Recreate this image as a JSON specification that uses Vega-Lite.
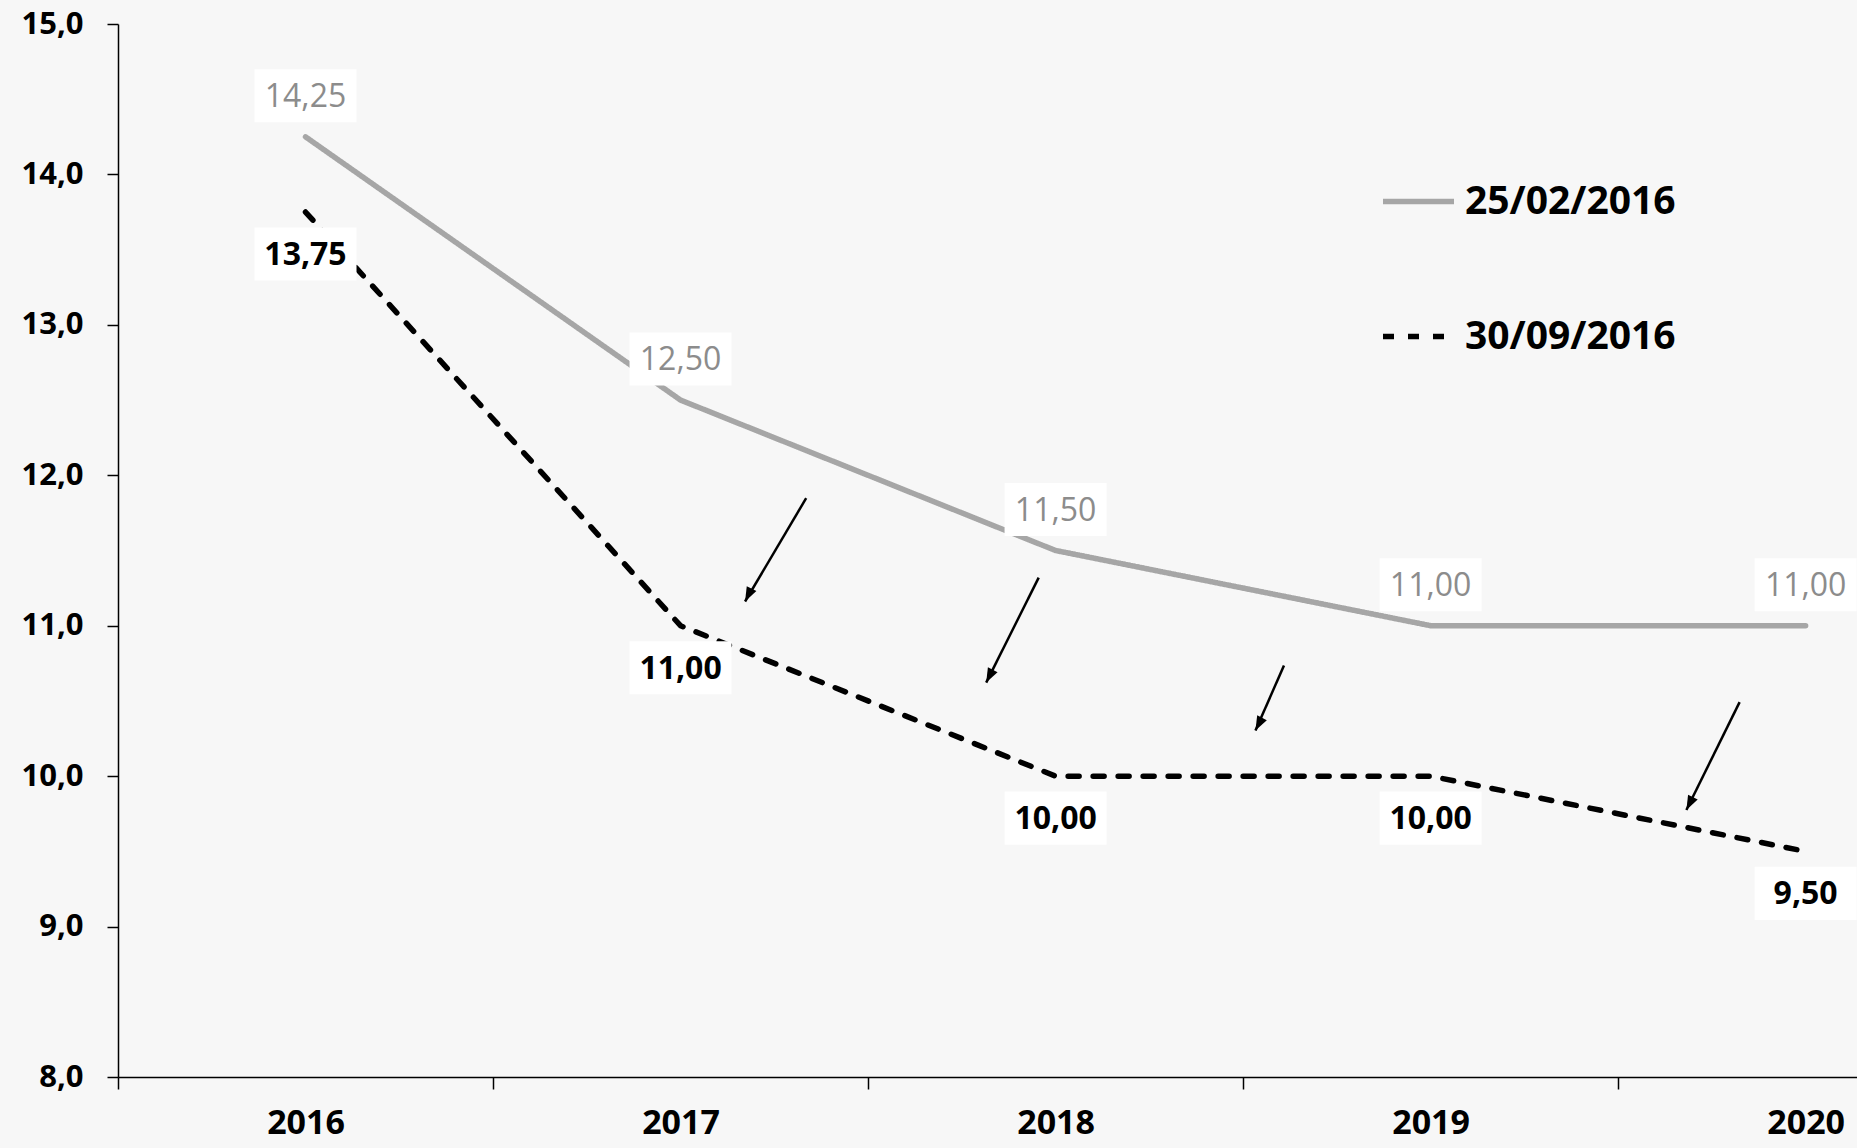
{
  "$schema": "https://vega.github.io/schema/vega-lite/v6.json",
  "width": 1739,
  "height": 1053,
  "autosize": {"type": "none"},
  "padding": {"left": 118, "top": 24, "right": 0, "bottom": 71},
  "background": "#f7f7f7",
  "config": {
    "locale": {"number": {"decimal": ",", "thousands": ".", "grouping": [3], "currency": ["", " €"]}},
    "view": {"stroke": null},
    "font": "Open Sans",
    "axis": {
      "domainColor": "#000000",
      "domainWidth": 1.5,
      "tickColor": "#000000",
      "tickWidth": 1.5,
      "labelColor": "#000000",
      "labelFont": "Open Sans",
      "labelFontWeight": "bold",
      "grid": false
    }
  },
  "datasets": {
    "rates": [
      {"year": 2016, "value": 14.25, "series": "25/02/2016"},
      {"year": 2017, "value": 12.5, "series": "25/02/2016"},
      {"year": 2018, "value": 11.5, "series": "25/02/2016"},
      {"year": 2019, "value": 11.0, "series": "25/02/2016"},
      {"year": 2020, "value": 11.0, "series": "25/02/2016"},
      {"year": 2016, "value": 13.75, "series": "30/09/2016"},
      {"year": 2017, "value": 11.0, "series": "30/09/2016"},
      {"year": 2018, "value": 10.0, "series": "30/09/2016"},
      {"year": 2019, "value": 10.0, "series": "30/09/2016"},
      {"year": 2020, "value": 9.5, "series": "30/09/2016"}
    ],
    "arrows": [
      {"x1": 2017.335, "y1": 11.848, "x2": 2017.172, "y2": 11.161},
      {"x1": 2017.955, "y1": 11.32, "x2": 2017.815, "y2": 10.622},
      {"x1": 2018.609, "y1": 10.736, "x2": 2018.533, "y2": 10.303},
      {"x1": 2019.824, "y1": 10.492, "x2": 2019.682, "y2": 9.775}
    ]
  },
  "layer": [
    {
      "data": {"name": "rates"},
      "mark": {"type": "line", "strokeWidth": 5.5, "strokeCap": "round", "strokeJoin": "round"},
      "encoding": {
        "x": {
          "field": "year",
          "type": "quantitative",
          "scale": {"domain": [2015.5, 2020.137], "nice": false, "zero": false},
          "axis": {
            "title": null,
            "orient": "bottom",
            "values": [2015.5, 2016, 2016.5, 2017, 2017.5, 2018, 2018.5, 2019, 2019.5, 2020, 2020.5],
            "labelExpr": "datum.value % 1 === 0 ? '' + datum.value : ''",
            "tickOpacity": {"condition": {"test": "datum.value % 1 === 0", "value": 0}, "value": 1},
            "tickSize": 12,
            "labelFontSize": 34,
            "labelPadding": 17,
            "labelFlush": false,
            "labelOverlap": false,
            "labelBound": false
          }
        },
        "y": {
          "field": "value",
          "type": "quantitative",
          "scale": {"domain": [8, 15], "nice": false, "zero": false},
          "axis": {
            "title": null,
            "values": [8, 9, 10, 11, 12, 13, 14, 15],
            "format": ".1f",
            "tickSize": 11,
            "labelFontSize": 31,
            "labelPadding": 24
          }
        },
        "color": {
          "field": "series",
          "type": "nominal",
          "scale": {"domain": ["25/02/2016", "30/09/2016"], "range": ["#a6a6a6", "#000000"]},
          "legend": {
            "title": null,
            "orient": "none",
            "legendX": 1262,
            "legendY": 139,
            "direction": "vertical",
            "symbolType": "stroke",
            "symbolSize": 5041,
            "symbolStrokeWidth": 5.5,
            "labelFont": "Open Sans",
            "labelFontSize": 39,
            "labelFontWeight": "bold",
            "labelColor": "#000000",
            "labelOffset": 8,
            "rowPadding": 76,
            "padding": 0,
            "labelLimit": 400
          }
        },
        "strokeDash": {
          "field": "series",
          "type": "nominal",
          "scale": {"domain": ["25/02/2016", "30/09/2016"], "range": [[1, 0], [11, 14]]},
          "legend": {
            "title": null,
            "orient": "none",
            "legendX": 1262,
            "legendY": 139,
            "direction": "vertical",
            "symbolType": "stroke",
            "symbolSize": 5041,
            "symbolStrokeWidth": 5.5,
            "labelFont": "Open Sans",
            "labelFontSize": 39,
            "labelFontWeight": "bold",
            "labelColor": "#000000",
            "labelOffset": 8,
            "rowPadding": 76,
            "padding": 0,
            "labelLimit": 400
          }
        }
      }
    },
    {
      "data": {"name": "rates"},
      "transform": [{"filter": "datum.series === '25/02/2016'"}],
      "mark": {"type": "point", "shape": "M-1,-0.52L1,-0.52L1,0.52L-1,0.52Z", "size": 10404, "filled": true, "fill": "#ffffff", "opacity": 1, "strokeWidth": 0, "yOffset": -41},
      "encoding": {
        "x": {"field": "year", "type": "quantitative"},
        "y": {"field": "value", "type": "quantitative"}
      }
    },
    {
      "data": {"name": "rates"},
      "transform": [{"filter": "datum.series === '30/09/2016'"}],
      "mark": {"type": "point", "shape": "M-1,-0.52L1,-0.52L1,0.52L-1,0.52Z", "size": 10404, "filled": true, "fill": "#ffffff", "opacity": 1, "strokeWidth": 0, "yOffset": 42},
      "encoding": {
        "x": {"field": "year", "type": "quantitative"},
        "y": {"field": "value", "type": "quantitative"}
      }
    },
    {
      "data": {"name": "rates"},
      "transform": [{"filter": "datum.series === '25/02/2016'"}],
      "mark": {"type": "text", "font": "Open Sans", "fontSize": 32, "color": "#8c8c8c", "baseline": "middle", "align": "center", "dy": -40},
      "encoding": {
        "x": {"field": "year", "type": "quantitative"},
        "y": {"field": "value", "type": "quantitative"},
        "text": {"field": "value", "type": "quantitative", "format": ".2f"}
      }
    },
    {
      "data": {"name": "rates"},
      "transform": [{"filter": "datum.series === '30/09/2016'"}],
      "mark": {"type": "text", "font": "Open Sans", "fontSize": 32, "fontWeight": "bold", "color": "#000000", "baseline": "middle", "align": "center", "dy": 43},
      "encoding": {
        "x": {"field": "year", "type": "quantitative"},
        "y": {"field": "value", "type": "quantitative"},
        "text": {"field": "value", "type": "quantitative", "format": ".2f"}
      }
    },
    {
      "data": {"name": "arrows"},
      "mark": {"type": "rule", "strokeWidth": 2.5, "color": "#000000"},
      "encoding": {
        "x": {"field": "x1", "type": "quantitative"},
        "y": {"field": "y1", "type": "quantitative"},
        "x2": {"field": "x2"},
        "y2": {"field": "y2"}
      }
    },
    {
      "data": {"name": "arrows"},
      "mark": {"type": "point", "shape": "M0,0L-0.45,1.2L0.45,1.2Z", "size": 576, "angle": 207, "filled": true, "fill": "#000000", "opacity": 1, "strokeWidth": 0},
      "encoding": {
        "x": {"field": "x2", "type": "quantitative"},
        "y": {"field": "y2", "type": "quantitative"}
      }
    }
  ]
}
